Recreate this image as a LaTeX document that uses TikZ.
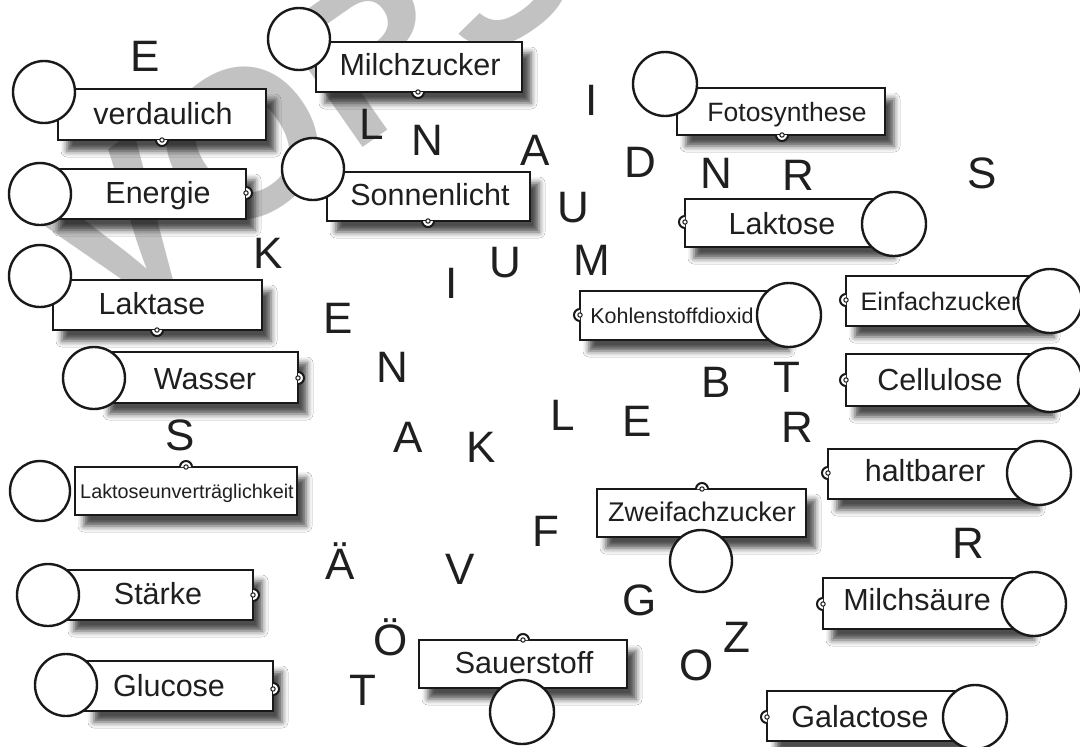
\documentclass[tikz,border=0pt]{standalone}
\usepackage{fontspec}
\setmainfont{Liberation Sans}
\usetikzlibrary{shadows.blur}

\begin{document}
\begin{tikzpicture}[x=1pt,y=-1pt,
    card/.style={draw=black!90, line width=2.8pt, fill=white,
        blur shadow={shadow xshift=9pt, shadow yshift=-11pt, shadow blur radius=6pt, shadow opacity=70}},
    ring/.style={circle, draw=black!90, line width=2.4pt, fill=white, minimum size=62pt, inner sep=0pt},
    word/.style={text=black!88, anchor=base, inner sep=0pt, font=\fontsize{#1}{#1}\selectfont, yshift={-0.358*#1pt}},
    word/.default=30.5,
    letter/.style={text=black!88, anchor=base, inner sep=0pt, font=\fontsize{44}{44}\selectfont, yshift=-15.75pt},
    notch/.pic={
        \fill[white] (-6pt,0pt) arc[start angle=180, end angle=360, radius=6pt] -- cycle;
        \draw[line width=2pt, black!90] (-6pt,0pt) arc[start angle=180, end angle=360, radius=6pt];
        \draw[line width=1pt, black!90, fill=white] (0,0) circle[radius=2.2pt];
    }]
    \useasboundingbox (0,0) rectangle (1080,747);
    \clip (0,0) rectangle (1080,747);
    \fill[white] (0,0) rectangle (1080,747);

    % watermark
    \node[rotate=35, anchor=base west, inner sep=0pt, text=black!24,
          font=\fontsize{210}{210}\selectfont\bfseries] (mark) at (103,330) {VORSCHAU};

    % left column
    \draw[card] (58,89) rectangle (266,140);
    \pic at (162,140) {notch};
    \node[ring] (verdaulichC) at (44,92) {};
    \node[word] (verdaulich) at (163,114) {verdaulich};

    \draw[card] (50,169) rectangle (246,219);
    \pic[rotate=90] at (246,193) {notch};
    \node[ring] (energieC) at (40,194) {};
    \node[word] (energie) at (158,193) {Energie};

    \draw[card] (53,280) rectangle (262,330);
    \pic at (157,330) {notch};
    \node[ring] (laktaseC) at (40,276) {};
    \node[word] (laktase) at (152,304) {Laktase};

    \draw[card] (100,352) rectangle (298,403);
    \pic[rotate=90] at (298,378) {notch};
    \node[ring] (wasserC) at (94,378) {};
    \node[word] (wasser) at (205,379) {Wasser};

    \draw[card] (75,467) rectangle (297,515);
    \pic[rotate=180] at (186,467) {notch};
    \node[ring, minimum size=60pt] (unvertraeglichC) at (40,491) {};
    \node[word=19.8] (unvertraeglich) at (187,491) {Laktoseunverträglichkeit};

    \draw[card] (65,570) rectangle (253,620);
    \pic[rotate=90] at (253,595) {notch};
    \node[ring] (staerkeC) at (48,595) {};
    \node[word] (staerke) at (158,594) {Stärke};

    \draw[card] (85,661) rectangle (273,711);
    \pic[rotate=90] at (273,689) {notch};
    \node[ring] (glucoseC) at (66,685) {};
    \node[word] (glucose) at (169,686) {Glucose};

    % middle
    \draw[card] (316,42) rectangle (522,92);
    \pic at (418,92) {notch};
    \node[ring] (milchzuckerC) at (299,39) {};
    \node[word] (milchzucker) at (420,65) {Milchzucker};

    \draw[card] (327,172) rectangle (530,221);
    \pic at (428,221) {notch};
    \node[ring] (sonnenlichtC) at (313,169) {};
    \node[word] (sonnenlicht) at (430,195) {Sonnenlicht};

    \draw[card] (677,88) rectangle (885,135);
    \pic at (782,135) {notch};
    \node[ring, minimum size=64pt] (fotosyntheseC) at (665,84) {};
    \node[word=26.5] (fotosynthese) at (787,112) {Fotosynthese};

    \draw[card] (685,199) rectangle (885,247);
    \pic[rotate=-90] at (685,222) {notch};
    \node[ring, minimum size=64pt] (laktoseC) at (894,224) {};
    \node[word] (laktose) at (782,224) {Laktose};

    \draw[card] (580,291) rectangle (780,340);
    \pic[rotate=-90] at (580,315) {notch};
    \node[ring, minimum size=64pt] (kohlendioxidC) at (789,315) {};
    \node[word=21.5] (kohlendioxid) at (672,316) {Kohlenstoffdioxid};

    \draw[card] (597,489) rectangle (806,537);
    \pic[rotate=180] at (702,489) {notch};
    \node[ring] (zweifachC) at (701,561) {};
    \node[word=27] (zweifach) at (702,512) {Zweifachzucker};

    \draw[card] (419,640) rectangle (627,688);
    \pic[rotate=180] at (523,640) {notch};
    \node[ring, minimum size=64pt] (sauerstoffC) at (522,712) {};
    \node[word] (sauerstoff) at (524,663) {Sauerstoff};

    % right column
    \draw[card] (846,276) rectangle (1045,326);
    \pic[rotate=-90] at (846,300) {notch};
    \node[ring, minimum size=64pt] (einfachC) at (1050,301) {};
    \node[word=25.3] (einfach) at (940,301) {Einfachzucker};

    \draw[card] (846,354) rectangle (1045,406);
    \pic[rotate=-90] at (846,380) {notch};
    \node[ring, minimum size=64pt] (celluloseC) at (1050,380) {};
    \node[word] (cellulose) at (940,380) {Cellulose};

    \draw[card] (828,449) rectangle (1030,499);
    \pic[rotate=-90] at (828,473) {notch};
    \node[ring, minimum size=64pt] (haltbarC) at (1039,473) {};
    \node[word] (haltbar) at (925,471) {haltbarer};

    \draw[card] (823,578) rectangle (1025,629);
    \pic[rotate=-90] at (823,604) {notch};
    \node[ring, minimum size=64pt] (milchsaeureC) at (1034,604) {};
    \node[word] (milchsaeure) at (917,600) {Milchsäure};

    \draw[card] (767,691) rectangle (970,741);
    \pic[rotate=-90] at (767,717) {notch};
    \node[ring, minimum size=64pt] (galactoseC) at (975,717) {};
    \node[word] (galactose) at (860,717) {Galactose};

    % loose letters
    \node[letter] (e1) at (145,56) {E};
    \node[letter] (l1) at (372,124) {L};
    \node[letter] (n1) at (427,140) {N};
    \node[letter] (a1) at (535,150) {A};
    \node[letter] (i1) at (592,100) {I};
    \node[letter] (d1) at (640,162) {D};
    \node[letter] (n2) at (716,173) {N};
    \node[letter] (r1) at (798,175) {R};
    \node[letter] (s1) at (982,173) {S};
    \node[letter] (u1) at (573,207) {U};
    \node[letter] (k1) at (268,253) {K};
    \node[letter] (i2) at (452,283) {I};
    \node[letter] (u2) at (505,262) {U};
    \node[letter] (m1) at (592,260) {M};
    \node[letter] (e2) at (338,318) {E};
    \node[letter] (n3) at (392,367) {N};
    \node[letter] (b1) at (716,382) {B};
    \node[letter] (t1) at (787,377) {T};
    \node[letter] (s2) at (180,435) {S};
    \node[letter] (l2) at (563,415) {L};
    \node[letter] (e3) at (637,421) {E};
    \node[letter] (r2) at (797,427) {R};
    \node[letter] (a2) at (408,437) {A};
    \node[letter] (k2) at (481,447) {K};
    \node[letter] (f1) at (546,531) {F};
    \node[letter] (ae) at (340,564) {Ä};
    \node[letter] (v1) at (460,569) {V};
    \node[letter] (r3) at (968,543) {R};
    \node[letter] (g1) at (640,600) {G};
    \node[letter] (oe) at (391,640) {Ö};
    \node[letter] (z1) at (737,637) {Z};
    \node[letter] (o1) at (697,665) {O};
    \node[letter] (t2) at (363,690) {T};
\end{tikzpicture}
\end{document}
